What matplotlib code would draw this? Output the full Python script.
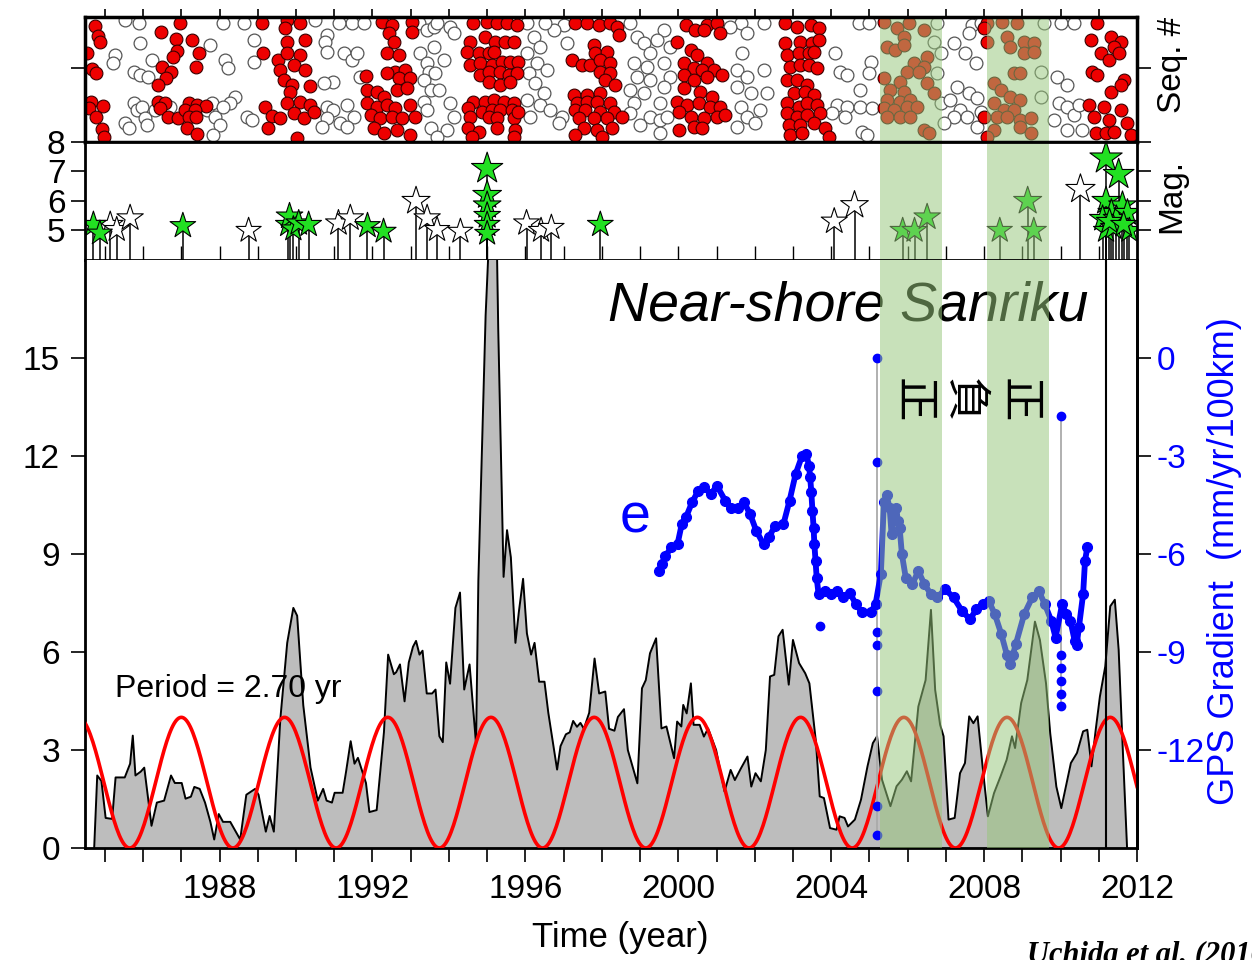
import numpy as np
import matplotlib.pyplot as plt

plt.rcParams['font.family'] = ['Liberation Sans', 'DejaVu Sans']
plt.rcParams['axes.unicode_minus'] = False

# ---------------- data ----------------
# repeating-earthquake sequences (time, seq #), red = active
red_t = [1984.74, 1984.83, 1984.86, 1984.54, 1984.66, 1984.77, 1984.63, 1984.94, 1984.59, 1984.77, 1984.92, 1984.98,
         1986.46, 1986.97, 1986.86, 1987.27, 1986.88, 1986.79, 1987.45, 1987.39, 1986.49, 1986.72, 1986.60, 1986.40,
         1986.40, 1986.58, 1986.43, 1986.64, 1986.90, 1987.19, 1987.41, 1987.65, 1987.10, 1987.36, 1987.19, 1987.39,
         1987.14, 1987.41,
         1989.11, 1989.76, 1990.11, 1989.72, 1989.76, 1990.24, 1989.13, 1989.54, 1989.76, 1990.11, 1989.59, 1989.94,
         1990.24, 1989.68, 1989.89, 1989.85, 1990.37, 1989.20, 1989.76, 1990.11, 1990.37, 1989.37, 1989.59, 1989.94,
         1990.20, 1990.46, 1989.28, 1990.02,
         1992.25, 1992.51, 1993.04, 1992.43, 1992.56, 1993.04, 1992.38, 1992.69, 1991.84, 1992.60, 1992.86, 1992.38,
         1992.69, 1992.99, 1991.86, 1992.12, 1992.29, 1992.64, 1992.91, 1991.86, 1992.12, 1992.38, 1992.60, 1992.99,
         1991.95, 1992.21, 1992.51, 1992.77, 1993.12, 1992.03, 1992.29, 1992.64, 1992.99,
         1994.64, 1994.99, 1995.26, 1995.52, 1995.78, 1994.56, 1994.95, 1995.21, 1995.47, 1995.69, 1994.47, 1994.78,
         1995.04, 1995.17, 1994.56, 1994.82, 1995.12, 1995.39, 1995.60, 1995.82, 1994.82, 1995.04, 1995.34, 1995.56,
         1995.78, 1995.04, 1995.34, 1995.60, 1994.64, 1994.95, 1995.17, 1995.43, 1995.69, 1994.51, 1994.86, 1995.12,
         1995.34, 1995.65, 1994.56, 1995.04, 1995.26, 1995.69, 1995.82, 1994.51, 1994.78, 1995.26, 1995.74, 1994.60,
         1995.69,
         1997.31, 1997.61, 1997.92, 1998.22, 1998.40, 1998.44, 1997.79, 1997.83, 1998.14, 1997.22, 1997.48, 1997.70,
         1997.96, 1998.22, 1997.96, 1998.22, 1998.09, 1998.35, 1997.26, 1997.61, 1997.96, 1997.35, 1997.61, 1997.88,
         1998.22, 1997.31, 1997.57, 1997.96, 1998.31, 1997.39, 1997.79, 1998.14, 1998.53, 1997.53, 1997.88, 1998.27,
         1997.31, 1998.01,
         1999.97, 2000.19, 2000.45, 2000.76, 2001.02, 2000.67, 2001.10, 2000.32, 2000.49, 2000.76, 2000.14, 2000.41,
         2000.62, 2000.93, 2001.15, 2000.14, 2000.41, 2000.76, 2000.14, 2000.58, 2000.88, 1999.97, 2000.23, 2000.54,
         2000.84, 2001.10, 2000.01, 2000.32, 2000.67, 2001.02, 2001.23, 2000.41, 2000.62, 2000.01,
         2002.80, 2003.11, 2003.46, 2003.67, 2002.80, 2003.19, 2003.50, 2003.67, 2002.84, 2003.15, 2003.41, 2003.54,
         2002.93, 2003.19, 2003.41, 2003.63, 2002.84, 2003.11, 2003.37, 2003.02, 2003.32, 2003.54, 2002.84, 2003.15,
         2003.37, 2003.63, 2002.84, 2003.11, 2003.37, 2003.72, 2002.89, 2003.19, 2003.54, 2003.85, 2002.93, 2003.24,
         2003.94,
         2005.38, 2005.73, 2006.03, 2006.42, 2005.90, 2005.46, 2005.68, 2005.90, 2006.51, 2006.16, 2006.42, 2005.99,
         2006.29, 2005.38, 2005.81, 2006.51, 2005.55, 2005.90, 2006.69, 2005.46, 2005.81, 2006.07, 2005.38, 2005.64,
         2005.99, 2006.25, 2005.46, 2005.81, 2006.07, 2006.42, 2006.55,
         2008.08, 2008.47, 2008.87, 2008.08, 2008.60, 2009.04, 2009.30, 2008.69, 2009.04, 2009.30, 2008.78, 2008.95,
         2008.26, 2008.43, 2008.69, 2008.95, 2008.26, 2008.52, 2008.78, 2008.34, 2008.60, 2008.95, 2009.22, 2008.26,
         2008.95, 2009.22, 2008.08, 2007.99, 2007.99,
         2010.96, 2011.31, 2011.57, 2010.79, 2011.40, 2011.05, 2011.27, 2011.53, 2010.83, 2010.96, 2011.66, 2011.31,
         2011.57, 2010.74, 2011.14, 2011.57, 2010.87, 2011.27, 2011.75, 2010.92, 2011.18, 2011.83, 2011.40]
red_s = [34.8, 31.8, 30.1, 26.6, 21.8, 20.6, 12.1, 10.8, 10.1, 7.4, 3.8, 1.6,
         33.1, 35.6, 30.8, 30.6, 27.4, 25.6, 26.6, 22.4, 22.6, 21.1, 19.1, 17.1,
         12.1, 11.6, 10.1, 7.6, 7.1, 11.6, 11.1, 10.8, 9.6, 9.6, 7.4, 7.4,
         4.1, 2.4,
         35.6, 36.6, 35.6, 34.1, 30.1, 30.6, 26.6, 24.6, 26.6, 26.1, 21.6, 23.1,
         21.6, 18.6, 17.1, 15.1, 16.8, 10.6, 11.6, 12.1, 11.1, 7.8, 7.1, 8.6,
         7.1, 9.1, 4.1, 1.1,
         36.1, 35.1, 36.1, 32.6, 30.1, 33.1, 26.6, 26.1, 19.8, 21.1, 21.6, 20.6,
         19.1, 19.1, 15.6, 15.1, 13.6, 15.6, 16.1, 11.6, 10.6, 11.1, 10.1, 11.1,
         8.1, 7.1, 7.6, 7.1, 7.6, 4.1, 2.6, 3.6, 2.1,
         35.6, 36.1, 35.6, 35.6, 35.1, 30.1, 31.6, 30.1, 30.1, 30.1, 27.1, 26.6,
         26.6, 27.1, 23.1, 23.6, 23.1, 24.1, 24.1, 24.1, 20.1, 21.1, 21.1, 20.1,
         20.6, 18.1, 17.1, 18.1, 12.1, 12.1, 12.6, 12.1, 11.6, 10.1, 9.1, 9.6,
         9.6, 9.6, 7.6, 7.6, 7.1, 7.1, 9.1, 4.1, 3.1, 4.1, 3.6, 1.6,
         1.6,
         35.6, 35.6, 35.1, 35.6, 34.6, 32.1, 29.1, 26.6, 27.1, 24.6, 23.1, 23.1,
         24.6, 23.6, 21.1, 20.6, 18.6, 17.1, 14.1, 14.1, 14.6, 11.6, 12.1, 12.1,
         11.6, 9.6, 9.6, 9.1, 9.1, 7.1, 7.1, 7.1, 7.6, 4.1, 3.6, 4.1,
         2.1, 1.6,
         30.1, 35.1, 33.6, 35.1, 35.6, 33.6, 32.6, 27.6, 26.1, 23.6, 23.6, 22.1,
         21.6, 21.6, 20.1, 20.1, 18.6, 19.6, 16.1, 15.1, 13.6, 12.1, 11.1, 11.6,
         10.6, 10.6, 9.1, 7.6, 7.1, 7.6, 8.1, 4.6, 4.1, 3.6,
         35.6, 34.6, 35.1, 34.1, 29.6, 30.1, 29.6, 30.6, 26.1, 26.6, 26.6, 27.1,
         22.6, 23.1, 23.1, 22.1, 18.6, 18.6, 17.1, 14.6, 15.1, 14.1, 11.6, 10.6,
         11.6, 11.1, 8.6, 7.6, 8.1, 8.6, 5.1, 5.1, 5.6, 4.1, 2.1, 2.6,
         1.6,
         36.1, 34.1, 35.6, 33.6, 31.6, 28.6, 27.6, 29.1, 25.6, 23.6, 22.6, 21.1,
         21.1, 19.1, 18.1, 17.6, 15.6, 15.1, 14.6, 12.6, 12.1, 12.6, 10.1, 9.6,
         10.6, 10.6, 7.6, 7.6, 7.6, 3.6, 2.6,
         35.6, 36.1, 35.6, 30.1, 31.6, 30.1, 29.6, 28.6, 26.6, 27.1, 20.6, 20.6,
         17.6, 15.6, 13.6, 12.6, 11.6, 9.6, 9.6, 7.6, 7.6, 6.6, 7.1, 3.6,
         4.6, 2.6, 1.6, 7.6, 34.1,
         35.6, 31.6, 30.1, 30.6, 28.6, 26.6, 24.6, 26.6, 21.1, 20.1, 18.6, 15.1,
         17.1, 11.1, 10.6, 9.6, 7.6, 6.6, 5.6, 2.6, 2.6, 2.1, 3.1]

white_t = [1985.53, 1985.88, 1985.92, 1985.27, 1985.22, 1985.75, 1985.92, 1986.23, 1986.14, 1985.75, 1985.83, 1985.97,
           1986.05, 1986.10, 1985.53, 1985.62, 1986.71, 1986.31, 1987.75, 1987.67, 1987.80, 1987.89, 1988.02, 1987.84,
           1988.15, 1988.23, 1988.41, 1988.28, 1988.10, 1988.89, 1988.89, 1988.72, 1988.85, 1988.63, 1988.10,
           1990.50, 1990.81, 1990.77, 1990.81, 1991.25, 1991.46, 1991.60, 1991.46, 1991.77, 1991.12, 1990.98, 1990.72,
           1990.81, 1990.98, 1991.33, 1991.51, 1991.16, 1990.81, 1990.68, 1991.33, 1991.68,
           1993.21, 1993.43, 1993.60, 1993.25, 1993.43, 1993.47, 1993.34, 1993.52, 1993.34, 1993.43, 1993.52,
           1993.68, 1994.03, 1994.12, 1993.60, 1993.86, 1993.64, 1993.73, 1994.03, 1994.12, 1993.95, 1993.68,
           1996.04, 1996.22, 1996.39, 1996.04, 1996.30, 1996.09, 1996.57, 1996.26, 1996.48, 1996.04, 1996.39, 1996.65,
           1996.13, 1996.96, 1996.87, 1997.09, 1997.00, 1996.74, 1996.52,
           1998.75, 1998.92, 1999.10, 1999.27, 1998.83, 1999.18, 1998.92, 1999.27, 1998.75, 1999.10, 1998.83, 1998.75,
           1999.27, 1999.01, 1999.53, 1999.62, 1999.44, 1999.79, 1999.62, 1999.79, 1999.62, 1999.53, 1999.71, 1999.53,
           2001.63, 2001.80, 2001.67, 2001.54, 2001.80, 2001.54, 2001.89, 2001.63, 2001.80, 2001.54, 2002.24, 2002.24,
           2002.32, 2002.15, 2002.02, 2001.36,
           2004.11, 2004.24, 2004.42, 2004.72, 2004.98, 2005.03, 2004.98, 2004.76, 2004.15, 2004.42, 2004.02, 2004.37,
           2004.76, 2005.07, 2004.81, 2004.94,
           2006.77, 2006.69, 2006.86, 2006.77, 2007.21, 2007.51, 2007.78, 2007.69, 2007.60, 2007.91, 2007.30, 2007.60,
           2007.82, 2006.86, 2007.12, 2007.38, 2007.21, 2007.56, 2007.91, 2006.95, 2007.82,
           2009.57, 2009.48, 2009.48, 2009.92, 2010.18, 2010.00, 2010.35, 2009.96, 2010.18, 2009.83, 2010.35, 2010.48,
           2010.57, 2010.18]
white_s = [36.6, 35.6, 29.8, 26.1, 23.6, 21.1, 20.1, 24.6, 19.6, 11.6, 9.6, 10.6,
           7.1, 5.1, 5.6, 4.1, 10.6, 9.6, 29.1, 9.6, 11.6, 7.6, 5.1, 2.1,
           24.6, 22.1, 13.6, 11.6, 10.6, 30.6, 24.1, 7.6, 6.6, 35.6, 35.6,
           36.6, 32.1, 30.1, 27.1, 26.6, 24.6, 26.6, 35.6, 35.6, 35.6, 18.1, 17.6,
           10.6, 9.6, 11.1, 7.6, 5.6, 7.1, 4.6, 4.6, 19.6,
           35.6, 33.6, 34.6, 26.6, 23.6, 21.1, 18.6, 15.6, 12.1, 9.6, 4.1,
           35.6, 34.6, 32.6, 28.6, 24.6, 20.6, 15.6, 11.6, 7.6, 3.6, 1.6,
           35.6, 31.6, 28.6, 26.6, 23.6, 20.6, 21.6, 17.6, 14.6, 12.6, 11.1, 9.6,
           7.6, 7.6, 5.6, 29.6, 35.1, 33.6, 35.6,
           35.6, 31.6, 29.6, 26.6, 23.6, 22.6, 19.6, 18.6, 15.6, 14.6, 11.6, 8.6,
           7.6, 5.1, 6.6, 33.6, 30.6, 28.6, 23.6, 19.6, 16.6, 11.6, 7.6, 2.6,
           35.6, 32.6, 26.6, 21.6, 19.6, 16.6, 14.6, 10.6, 7.6, 4.6, 35.6, 21.6,
           14.6, 9.6, 5.6, 34.6,
           26.6, 21.1, 20.1, 35.6, 35.6, 24.1, 20.6, 15.6, 11.1, 10.6, 8.6, 7.6,
           10.6, 10.1, 3.1, 2.1,
           35.6, 30.1, 26.6, 20.6, 29.6, 26.6, 23.6, 35.1, 32.6, 35.6, 16.6, 14.6,
           13.1, 11.6, 12.6, 9.6, 7.6, 7.6, 9.1, 5.6, 4.6,
           35.6, 21.1, 13.6, 19.6, 17.1, 35.6, 35.6, 11.6, 10.6, 6.6, 8.1, 11.1,
           3.6, 3.6]

# M>=5 earthquakes (time, magnitude)
eq_green_t = [1984.70, 1984.87, 1987.04, 1989.80, 1989.83, 1989.93, 1990.07, 1990.33, 1991.87, 1992.29,
              1995.00, 1995.00, 1995.00, 1995.00, 1995.00, 1995.00, 1997.96,
              2005.87, 2006.18, 2006.51, 2008.41, 2009.14, 2009.30,
              2011.19, 2011.52, 2011.19, 2011.62, 2011.33, 2011.10, 2011.46, 2011.75, 2011.19, 2011.80,
              2011.38, 2011.28, 2011.65]
eq_green_m = [5.2, 4.91, 5.16, 5.2, 5.48, 5.05, 5.25, 5.2, 5.16, 4.97,
              7.1, 6.2, 5.85, 5.5, 5.2, 4.9, 5.2,
              5.0, 5.0, 5.45, 5.0, 6.0, 5.0,
              7.45, 6.9, 6.0, 5.85, 5.6, 5.4, 5.4, 5.6, 5.0, 5.0,
              5.1, 5.3, 5.2]
eq_white_t = [1985.14, 1985.31, 1985.66, 1988.76, 1991.11, 1991.42, 1993.14, 1993.43, 1993.69, 1994.30,
              1996.03, 1996.41, 1996.68, 2004.08, 2004.61, 2010.52]
eq_white_m = [5.2, 5.03, 5.42, 5.0, 5.25, 5.42, 6.0, 5.42, 5.03, 4.97,
              5.25, 5.0, 5.1, 5.31, 5.86, 6.4]

# slip-rate (gray) curve
slip_t = [1984.72, 1984.80, 1984.91, 1985.02, 1985.19, 1985.28, 1985.52, 1985.66, 1985.73, 1985.80, 1985.94, 1986.03,
          1986.22, 1986.36, 1986.55, 1986.73, 1986.83, 1987.01, 1987.11, 1987.25, 1987.34, 1987.48, 1987.62, 1987.76,
          1987.86, 1987.98, 1988.09, 1988.28, 1988.54, 1988.70, 1988.93, 1989.02, 1989.21, 1989.31, 1989.42, 1989.59,
          1989.77, 1989.93, 1990.03, 1990.19, 1990.38, 1990.57, 1990.71, 1990.80, 1990.94, 1991.01, 1991.22, 1991.31,
          1991.43, 1991.53, 1991.62, 1991.83, 1991.92, 1992.11, 1992.30, 1992.41, 1992.56, 1992.62, 1992.72, 1992.84,
          1992.95, 1993.06, 1993.14, 1993.23, 1993.31, 1993.42, 1993.56, 1993.65, 1993.75, 1993.84, 1993.93, 1994.03,
          1994.17, 1994.29, 1994.40, 1994.54, 1994.71, 1994.77, 1994.96, 1995.08, 1995.24, 1995.29, 1995.43, 1995.52,
          1995.62, 1995.74, 1995.83, 1995.94, 1996.04, 1996.15, 1996.24, 1996.36, 1996.50, 1996.60, 1996.83, 1996.92,
          1997.06, 1997.16, 1997.25, 1997.35, 1997.44, 1997.53, 1997.67, 1997.81, 1997.93, 1998.09, 1998.19, 1998.33,
          1998.42, 1998.58, 1998.68, 1998.93, 1999.05, 1999.15, 1999.26, 1999.42, 1999.56, 1999.69, 1999.89, 1999.97,
          2000.08, 2000.13, 2000.22, 2000.33, 2000.40, 2000.56, 2000.67, 2000.78, 2000.99, 2001.21, 2001.37, 2001.48,
          2001.64, 2001.81, 2001.91, 2002.02, 2002.16, 2002.29, 2002.40, 2002.51, 2002.62, 2002.73, 2002.89, 2003.00,
          2003.16, 2003.32, 2003.43, 2003.60, 2003.70, 2003.81, 2003.97, 2004.14, 2004.22, 2004.35, 2004.44, 2004.62,
          2004.78, 2004.95, 2005.09, 2005.20, 2005.33, 2005.55, 2005.71, 2005.85, 2005.98, 2006.09, 2006.28, 2006.47,
          2006.61, 2006.72, 2006.85, 2006.94, 2007.07, 2007.23, 2007.37, 2007.50, 2007.61, 2007.72, 2007.83, 2007.96,
          2008.10, 2008.26, 2008.43, 2008.59, 2008.73, 2008.81, 2008.97, 2009.13, 2009.33, 2009.46, 2009.62, 2009.73,
          2009.89, 2010.02, 2010.16, 2010.27, 2010.43, 2010.59, 2010.70, 2010.81, 2010.92, 2011.03, 2011.17, 2011.30,
          2011.42, 2011.52, 2011.61, 2011.74]
slip_v = [0, 2.22, 2.05, 0.92, 0.89, 2.16, 2.16, 2.58, 3.44, 2.22, 2.34, 2.46,
          0.68, 1.39, 1.45, 2.22, 1.99, 1.99, 1.51, 1.57, 1.87, 1.81, 1.39, 0.80,
          0.26, 1.04, 0.80, 0.80, 0.26, 1.63, 1.81, 1.63, 0.50, 0.98, 0.50, 3.95,
          6.28, 7.35, 7.11, 4.37, 2.46, 1.45, 1.81, 1.45, 1.39, 1.69, 1.69, 2.34,
          3.27, 2.58, 2.76, 1.99, 1.10, 1.16, 3.54, 5.92, 5.32, 5.38, 5.62, 4.49,
          5.68, 6.16, 6.34, 5.92, 6.04, 4.73, 4.73, 4.85, 3.42, 3.24, 5.68, 5.03,
          7.35, 7.82, 4.85, 5.62, 3.18, 8.18, 16.3, 19.5, 19.5, 15.9, 8.3, 9.73,
          8.9, 6.28, 7.23, 8.24, 6.57, 5.92, 6.28, 5.09, 5.09, 4.14, 2.40, 3.12,
          3.48, 3.54, 3.89, 3.71, 3.83, 3.65, 4.14, 5.80, 4.73, 4.79, 3.65, 3.59,
          4.01, 4.25, 3.0, 1.98, 4.89, 5.14, 5.96, 6.42, 3.66, 3.72, 2.75, 3.87,
          3.72, 4.38, 4.12, 5.04, 3.77, 3.77, 3.41, 3.66, 3.00, 1.73, 2.39, 2.08,
          2.44, 2.80, 1.88, 2.29, 2.04, 3.00, 5.25, 5.30, 6.48, 6.68, 5.00, 6.37,
          5.66, 5.35, 5.04, 3.26, 1.58, 1.53, 0.61, 0.56, 0.97, 0.92, 0.66, 0.87,
          1.48, 2.50, 3.21, 3.42, 2.09, 1.28, 1.89, 2.09, 2.35, 2.04, 4.33, 5.14,
          7.29, 4.84, 3.77, 3.42, 0.87, 0.92, 2.29, 2.60, 4.03, 3.82, 4.03, 2.50,
          0.97, 1.68, 2.19, 2.70, 3.42, 3.06, 4.44, 5.14, 6.93, 6.37, 5.04, 3.51,
          1.88, 1.22, 1.99, 2.60, 2.91, 3.57, 3.62, 2.50, 3.62, 4.64, 5.56, 7.4,
          7.6, 6.07, 3.51, 0]

# fitted sinusoid parameters
period = 2.70
peak_year = 1987.0
amp = 2.0

# GPS gradient (e component)
gps_t = [1999.49, 1999.58, 1999.66, 1999.82, 1999.98, 2000.09, 2000.20, 2000.36, 2000.52, 2000.68, 2000.85, 2001.01,
         2001.23, 2001.39, 2001.55, 2001.72, 2001.88, 2002.04, 2002.23, 2002.37, 2002.53, 2002.75, 2002.91, 2003.07,
         2003.24, 2003.35, 2003.42, 2003.45, 2003.48, 2003.51, 2003.54, 2003.56, 2003.59, 2003.62, 2003.67, 2003.83,
         2003.99, 2004.16, 2004.32, 2004.48, 2004.65, 2004.81, 2005.03, 2005.16,
         2005.30, 2005.38, 2005.45, 2005.53, 2005.58, 2005.64, 2005.69, 2005.75, 2005.79, 2005.85, 2005.95, 2006.12,
         2006.28, 2006.44, 2006.61, 2006.77, 2006.98, 2007.20, 2007.42, 2007.63, 2007.80, 2007.96, 2008.12, 2008.28,
         2008.45, 2008.60, 2008.67, 2008.75, 2008.83, 2009.05, 2009.26, 2009.43, 2009.59, 2009.76, 2009.87,
         2010.04, 2010.15, 2010.26, 2010.37, 2010.42, 2010.48, 2010.59, 2010.64, 2010.70]
gps_v = [-6.52, -6.3, -6.06, -5.80, -5.70, -5.09, -4.88, -4.42, -4.07, -3.96, -4.17, -3.91,
         -4.37, -4.58, -4.58, -4.42, -4.78, -5.29, -5.70, -5.49, -5.14, -5.09, -4.37, -3.55,
         -2.99, -2.94, -3.3, -3.65, -4.1, -4.68, -5.2, -5.70, -6.2, -6.72, -7.23, -7.13,
         -7.23, -7.13, -7.33, -7.18, -7.54, -7.79, -7.79, -7.54,
         -6.6, -4.4, -4.2, -4.6, -5.4, -4.8, -4.58, -5.0, -5.19, -6.01, -6.72, -6.93,
         -6.52, -6.93, -7.23, -7.33, -7.08, -7.33, -7.74, -8.00, -7.69, -7.54, -7.43, -7.84,
         -8.45, -9.1, -9.37, -9.1, -8.76, -7.84, -7.33, -7.13, -7.54, -8.05, -8.56,
         -7.54, -7.84, -8.05, -8.66, -8.8, -8.25, -7.23, -6.21, -5.80]
gps_outlier_t = [2003.70, 2005.20, 2005.20, 2005.20, 2005.20, 2005.20, 2005.20, 2005.20,
                 2010.00, 2010.00, 2010.00, 2010.00, 2010.00, 2010.00]
gps_outlier_v = [-8.2, 0.0, -3.18, -8.4, -8.8, -10.2, -13.7, -14.6,
                 -1.79, -9.1, -9.5, -9.9, -10.3, -10.65]
gps_spikes_t = [2005.20, 2010.00]
gps_spikes_lo = [-14.6, -10.65]
gps_spikes_hi = [0.0, -1.79]

mainshock_t = 2011.19
bands = [(2005.29, 2006.89), (2008.07, 2009.69)]
band_labels = ['正', '負', '正']
band_label_t = [2006.13, 2007.46, 2008.90]

years = list(range(1985, 2012))
label_years = list(range(1988, 2013, 4))
x0, x1 = 1984.48, 2012.0

# ---------------- figure ----------------
fig = plt.figure(figsize=(12.52, 9.6), dpi=100)
L, W = 85 / 1252, (1137 - 85) / 1252


def fy(px):
    return 1 - px / 960


ax_seq = fig.add_axes([L, fy(142), W, 125 / 960])
ax_mag = fig.add_axes([L, fy(260), W, 118 / 960])
ax = fig.add_axes([L, fy(848), W, 588 / 960])
ax2 = ax.twinx()

band_color = '#97c67b'
band_alpha = 0.52

# sequences panel
ax_seq.scatter(white_t, white_s, s=85, facecolor='white', edgecolor='#555555', linewidth=0.9, zorder=2)
ax_seq.scatter(red_t, red_s, s=85, facecolor='#ee0000', edgecolor='#3a0000', linewidth=0.8, zorder=3)
ax_seq.set_xlim(x0, x1)
ax_seq.set_ylim(0, 37.5)
ax_seq.set_xticks(years)
ax_seq.set_yticks([22.2])
ax_seq.tick_params(axis='x', top=True, bottom=True, labelbottom=False, direction='out', length=6, width=1.2)
ax_seq.tick_params(axis='y', left=True, right=True, labelleft=False, direction='out', length=10, width=1.2)
for sp in ax_seq.spines.values():
    sp.set_linewidth(2.5)
    sp.set_zorder(6)

# magnitude panel
ax_mag.vlines(eq_white_t, 4, eq_white_m, color='black', lw=1.1, zorder=2)
ax_mag.vlines(eq_green_t, 4, eq_green_m, color='black', lw=1.1, zorder=2)
ax_mag.scatter(eq_white_t, eq_white_m, marker='*', s=[(8 + 2.2 * m) ** 2 for m in eq_white_m],
               facecolor='white', edgecolor='black', linewidth=0.8, zorder=3)
ax_mag.scatter(eq_green_t, eq_green_m, marker='*', s=[(8 + 2.2 * m) ** 2 for m in eq_green_m],
               facecolor='#22e022', edgecolor='black', linewidth=0.8, zorder=4)
ax_mag.set_xlim(x0, x1)
ax_mag.set_ylim(4, 8)
ax_mag.set_xticks(years)
ax_mag.set_yticks([5, 6, 7, 8])
ax_mag.tick_params(axis='x', bottom=True, labelbottom=False, direction='in', length=10, width=1.0)
ax_mag.tick_params(axis='y', left=True, right=True, labelleft=True, labelsize=24, direction='out',
                   length=10, width=1.2, pad=4)
for sp in ax_mag.spines.values():
    sp.set_linewidth(2)
    sp.set_zorder(6)

# main panel
ax.fill_between(slip_t, slip_v, 0, color='#bdbdbd', lw=0, zorder=1)
ax.plot(slip_t, slip_v, color='black', lw=1.4, zorder=2)
tt = np.linspace(x0, x1, 800)
ax.plot(tt, amp * (1 + np.cos(2 * np.pi * (tt - peak_year) / period)), color='#ff0000', lw=2.6, zorder=3)
ax.axvline(mainshock_t, color='black', lw=1.5, zorder=3)
ax.set_xlim(x0, x1)
ax.set_ylim(0, 18)
ax.set_xticks(label_years)
ax.set_xticklabels([str(y) for y in label_years])
ax.set_xticks(years, minor=True)
ax.set_yticks([0, 3, 6, 9, 12, 15])
ax.tick_params(axis='both', which='both', direction='out', length=10, width=1.2, labelsize=24)
ax.tick_params(axis='x', pad=9)
ax.tick_params(axis='y', pad=8)
ax.spines['top'].set_visible(False)
for s in ['left', 'right', 'bottom']:
    ax.spines[s].set_linewidth(2)

ax.text(1998.17, 16.16, 'Near-shore Sanriku', fontsize=40, style='italic', ha='left', va='baseline', zorder=4)
ax.text(1985.27, 4.62, 'Period = 2.70 yr', fontsize=23, ha='left', va='baseline', zorder=4)
ax.text(1998.88, 9.67, 'e', fontsize=40, color='blue', ha='center', va='baseline', zorder=4)

# GPS on right axis
ax2.set_ylim(-15, 3)
ax2.vlines(gps_spikes_t, gps_spikes_lo, gps_spikes_hi, color='#aaaaaa', lw=1.3, zorder=2)
ax2.plot(gps_t, gps_v, color='blue', lw=4.2, marker='o', ms=7, zorder=3)
ax2.plot(gps_outlier_t, gps_outlier_v, 'o', color='blue', ms=6, zorder=3)
ax2.set_yticks([0, -3, -6, -9, -12])
ax2.tick_params(axis='y', direction='out', length=10, width=1.2, labelsize=24, labelcolor='blue', pad=4)
ax2.spines['top'].set_visible(False)
ax2.spines['right'].set_linewidth(2)

# shaded intervals over all panels
for a0, a1 in bands:
    ax_seq.axvspan(a0, a1, color=band_color, alpha=band_alpha, lw=0, zorder=5)
    ax_mag.axvspan(a0, a1, color=band_color, alpha=band_alpha, lw=0, zorder=5)
    ax2.axvspan(a0, a1, color=band_color, alpha=band_alpha, lw=0, zorder=10)

for t, lab in zip(band_label_t, band_labels):
    ax2.text(t, -1.29, lab, fontsize=32, rotation=270, ha='center', va='center',
             family=['Noto Sans CJK TC', 'DejaVu Sans'], zorder=20)

# axis titles
fig.text(1172 / 1252, fy(65), 'Seq. #', rotation=90, fontsize=24, ha='center', va='center')
fig.text(1172 / 1252, fy(196), 'Mag.', rotation=90, fontsize=24, ha='center', va='center')
fig.text(1225 / 1252, fy(561), 'GPS Gradient  (mm/yr/100km)', rotation=90, fontsize=26,
         color='blue', ha='center', va='center')
fig.text(620 / 1252, fy(938), 'Time (year)', fontsize=25, ha='center', va='center')
fig.text(1027 / 1252, fy(962), 'Uchida et al. (2016)', fontsize=22, ha='left', va='baseline',
         family=['Liberation Serif'], weight='bold', style='italic')

fig.savefig('out.png', dpi=100)
